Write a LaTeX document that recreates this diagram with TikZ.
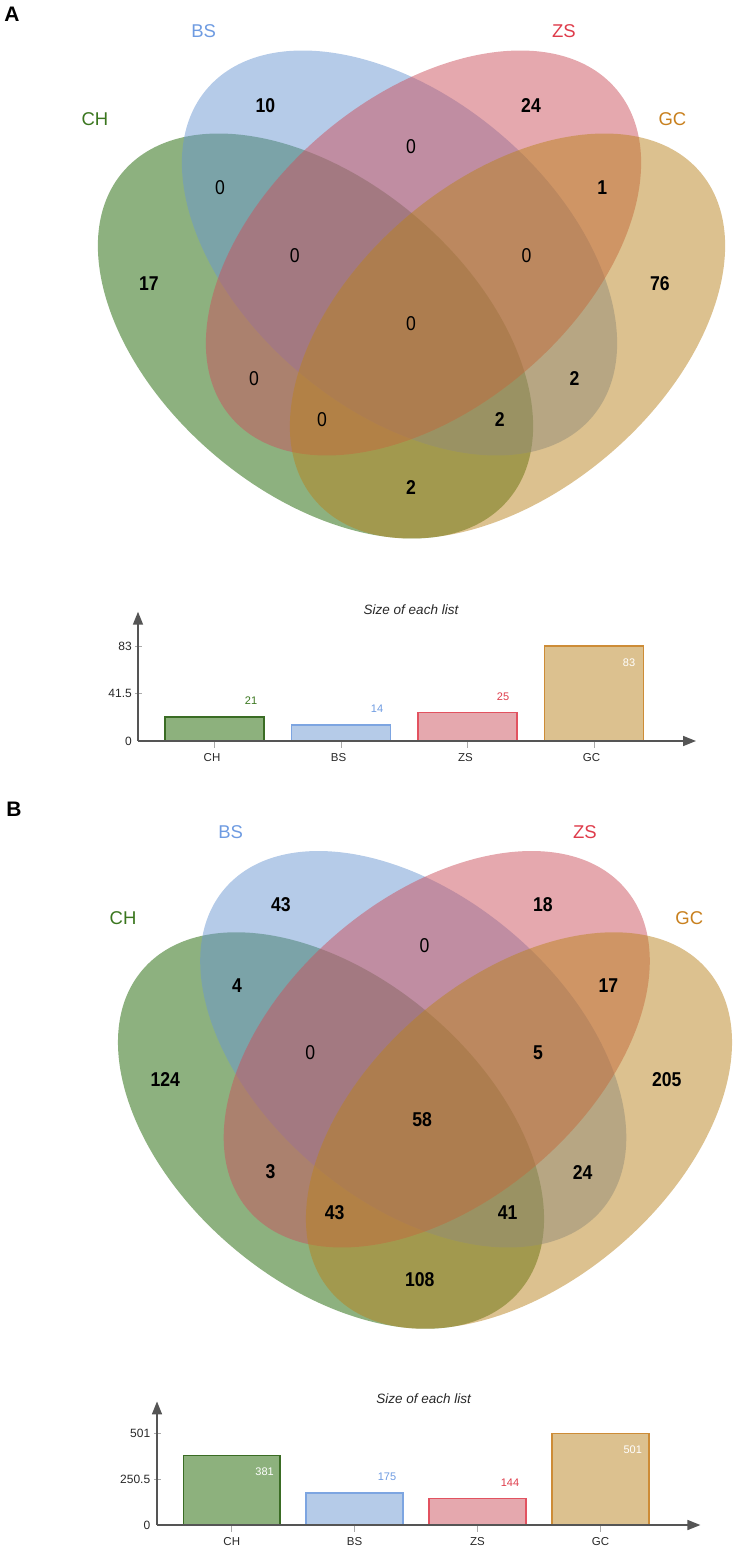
\documentclass[tikz,border=0pt]{standalone}
\usepackage{fontspec}
\setmainfont{Liberation Sans}
\newfontfamily\vnumfont{Liberation Sans}[FakeStretch=0.88]
\usetikzlibrary{arrows.meta}
\definecolor{chB}{RGB}{27,99,0}
\definecolor{bsB}{RGB}{107,151,209}
\definecolor{zsB}{RGB}{203,81,93}
\definecolor{gcB}{RGB}{185,131,31}
\definecolor{chF}{RGB}{141,177,125}
\definecolor{bsF}{RGB}{181,203,232}
\definecolor{zsF}{RGB}{229,168,174}
\definecolor{gcF}{RGB}{220,193,143}
\definecolor{chE}{RGB}{58,108,36}
\definecolor{bsE}{RGB}{125,165,225}
\definecolor{zsE}{RGB}{226,82,96}
\definecolor{gcE}{RGB}{205,140,55}
\definecolor{chT}{RGB}{58,118,30}
\definecolor{bsT}{RGB}{110,155,225}
\definecolor{zsT}{RGB}{222,60,75}
\definecolor{gcT}{RGB}{200,128,30}
\definecolor{axisc}{RGB}{85,85,85}
\definecolor{tickc}{RGB}{170,170,170}
\definecolor{txtc}{RGB}{40,40,40}
\newcommand{\myvenn}{%
  \fill[chB, fill opacity=.5, shift={(-96,0)}, rotate=-40.4] (0,0) ellipse [x radius=253, y radius=156];
  \fill[bsB, fill opacity=.5, shift={(-12,-83)}, rotate=-40.4] (0,0) ellipse [x radius=253, y radius=156];
  \fill[zsB, fill opacity=.5, shift={(12,-83)}, rotate=40.4] (0,0) ellipse [x radius=253, y radius=156];
  \fill[gcB, fill opacity=.5, shift={(96,0)}, rotate=40.4] (0,0) ellipse [x radius=253, y radius=156];
}
\begin{document}
\begin{tikzpicture}[x=1pt,y=-1pt,
  vb/.style={inner sep=0pt, font=\vnumfont\fontsize{20}{20}\selectfont\bfseries},
  vr/.style={inner sep=0pt, font=\vnumfont\fontsize{20}{20}\selectfont},
  setlab/.style={inner sep=0pt, font=\fontsize{18.5}{18.5}\selectfont},
  panel/.style={inner sep=0pt, font=\fontsize{21}{21}\selectfont\bfseries},
  ttl/.style={inner sep=0pt, font=\fontsize{13.5}{13.5}\selectfont\itshape, text=txtc},
  ticklab/.style={inner sep=0pt, anchor=east, font=\fontsize{12}{12}\selectfont, text=txtc},
  xlab/.style={inner sep=0pt, font=\fontsize{11.5}{11.5}\selectfont, text=txtc},
  vallab/.style={inner sep=0pt, font=\fontsize{11}{11}\selectfont},
  axis/.style={draw=axisc, line width=1.6pt, -{Triangle[length=13pt,width=10pt]}},
  tick/.style={draw=tickc, line width=1pt},
  bar/.style={line width=1.5pt}]
\useasboundingbox (0,0) rectangle (733,1550);

% ================= Panel A =================
\node[panel] (pA) at (12,14.5) {A};
\begin{scope}[shift={(411.5,336)}]
  \myvenn
\end{scope}
\node[setlab, text=bsT] (aBS) at (203.6,30.9) {BS};
\node[setlab, text=zsT] (aZS) at (563.9,30.9) {ZS};
\node[setlab, text=chT] (aCH) at (95,119.3) {CH};
\node[setlab, text=gcT] (aGC) at (672.4,119.3) {GC};
\node[vb] (a1) at (265.3,105.3) {10};
\node[vb] (a2) at (531,105.3) {24};
\node[vr] (a3) at (410.9,146.7) {0};
\node[vr] (a4) at (220,187.7) {0};
\node[vb] (a5) at (602.3,187.7) {1};
\node[vr] (a6) at (294.8,256.1) {0};
\node[vr] (a7) at (526.4,256.1) {0};
\node[vb] (a8) at (148.8,283.5) {17};
\node[vb] (a9) at (659.8,283.5) {76};
\node[vr] (a10) at (410.9,323.5) {0};
\node[vr] (a11) at (254.1,379) {0};
\node[vb] (a12) at (574.6,379) {2};
\node[vr] (a13) at (322,419.3) {0};
\node[vb] (a14) at (499.8,419.3) {2};
\node[vb] (a15) at (410.9,487.7) {2};

% bar chart A
\node[ttl] (aT) at (411,609.7) {Size of each list};
\coordinate (aO) at (138,741);
\coordinate (aYt) at (138,611.7);
\coordinate (aXt) at (696,741);
\draw[tick] (135,646) -- (142,646);
\draw[tick] (135,693.5) -- (142,693.5);
\draw[tick] (214.5,741) -- (214.5,747.5);
\draw[tick] (341,741) -- (341,747.5);
\draw[tick] (467.5,741) -- (467.5,747.5);
\draw[tick] (594,741) -- (594,747.5);
\draw[bar, draw=chE, fill=chF] (165,741) rectangle (264,717);
\draw[bar, draw=bsE, fill=bsF] (291.5,741) rectangle (390.5,725);
\draw[bar, draw=zsE, fill=zsF] (418,741) rectangle (517,712.4);
\draw[bar, draw=gcE, fill=gcF] (544.5,741) rectangle (643.5,646);
\draw[axis] (aO) -- (aYt);
\draw[axis] (aO) -- (aXt);
\node[ticklab] (aY1) at (132,646) {83};
\node[ticklab] (aY2) at (132,693.5) {41.5};
\node[ticklab] (aY3) at (132,741) {0};
\node[vallab, text=chT] (aV1) at (251,701) {21};
\node[vallab, text=bsT] (aV2) at (377,709) {14};
\node[vallab, text=zsT] (aV3) at (503,696.4) {25};
\node[vallab, text=white] (aV4) at (629,663) {83};
\node[xlab] (aX1) at (212,757.7) {CH};
\node[xlab] (aX2) at (338.5,757.7) {BS};
\node[xlab] (aX3) at (465.5,757.7) {ZS};
\node[xlab] (aX4) at (591.5,757.7) {GC};

% ================= Panel B =================
\node[panel] (pB) at (14,809.6) {B};
\begin{scope}[shift={(425,1130.5)}, scale=0.979]
  \myvenn
\end{scope}
\node[setlab, text=bsT] (bBS) at (230.7,832.1) {BS};
\node[setlab, text=zsT] (bZS) at (584.9,832.1) {ZS};
\node[setlab, text=chT] (bCH) at (123.1,917.9) {CH};
\node[setlab, text=gcT] (bGC) at (689.3,917.9) {GC};
\node[vb] (b1) at (280.8,905) {43};
\node[vb] (b2) at (542.8,905) {18};
\node[vr] (b3) at (424.4,945.4) {0};
\node[vb] (b4) at (237,985.7) {4};
\node[vb] (b5) at (608.3,985.7) {17};
\node[vr] (b6) at (310.3,1052.5) {0};
\node[vb] (b7) at (538.1,1052.5) {5};
\node[vb] (b8) at (165.2,1079.3) {124};
\node[vb] (b9) at (666.8,1079.3) {205};
\node[vb] (b10) at (422.1,1119.3) {58};
\node[vb] (b11) at (270.5,1172.1) {3};
\node[vb] (b12) at (582.6,1172.1) {24};
\node[vb] (b13) at (334.6,1212.5) {43};
\node[vb] (b14) at (507.7,1212.5) {41};
\node[vb] (b15) at (419.7,1279.3) {108};

% bar chart B
\node[ttl] (bT) at (423.6,1398.8) {Size of each list};
\coordinate (bO) at (157,1525);
\coordinate (bYt) at (157,1401.4);
\coordinate (bXt) at (700.4,1525);
\draw[tick] (154,1433.6) -- (161,1433.6);
\draw[tick] (154,1479.3) -- (161,1479.3);
\draw[tick] (231.75,1525) -- (231.75,1531.5);
\draw[tick] (354.5,1525) -- (354.5,1531.5);
\draw[tick] (477.5,1525) -- (477.5,1531.5);
\draw[tick] (600.5,1525) -- (600.5,1531.5);
\draw[bar, draw=chE, fill=chF] (183.5,1525) rectangle (280,1455.5);
\draw[bar, draw=bsE, fill=bsF] (306,1525) rectangle (403,1493);
\draw[bar, draw=zsE, fill=zsF] (429,1525) rectangle (526,1498.7);
\draw[bar, draw=gcE, fill=gcF] (552,1525) rectangle (649,1433.6);
\draw[axis] (bO) -- (bYt);
\draw[axis] (bO) -- (bXt);
\node[ticklab] (bY1) at (150.4,1433.6) {501};
\node[ticklab] (bY2) at (150.4,1479.3) {250.5};
\node[ticklab] (bY3) at (150.4,1525) {0};
\node[vallab, text=white] (bV1) at (264.6,1471.4) {381};
\node[vallab, text=bsT] (bV2) at (387,1477) {175};
\node[vallab, text=zsT] (bV3) at (510,1482.6) {144};
\node[vallab, text=white] (bV4) at (632.7,1450) {501};
\node[xlab] (bX1) at (231.75,1542) {CH};
\node[xlab] (bX2) at (354.5,1542) {BS};
\node[xlab] (bX3) at (477.5,1542) {ZS};
\node[xlab] (bX4) at (600.5,1542) {GC};
\end{tikzpicture}
\end{document}
